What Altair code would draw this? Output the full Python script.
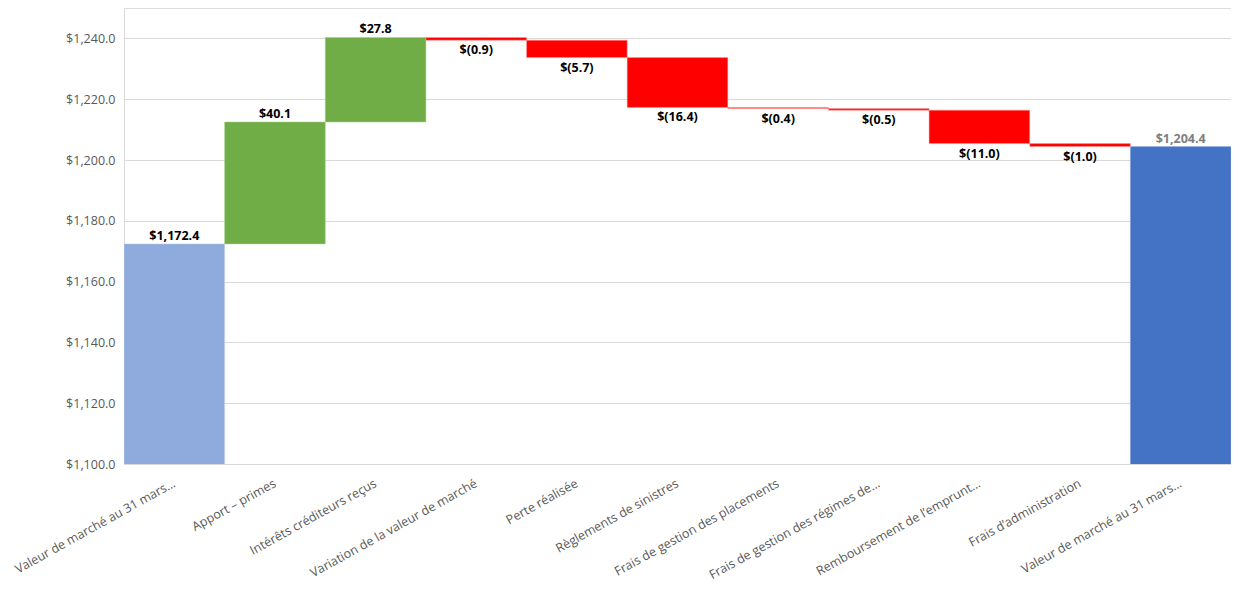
import json
import altair as alt
import pandas as pd

categories = [
    "Valeur de marché au 31 mars…",
    "Apport – primes",
    "Intérêts créditeurs reçus",
    "Variation de la valeur de marché",
    "Perte réalisée",
    "Règlements de sinistres",
    "Frais de gestion des placements",
    "Frais de gestion des régimes de…",
    "Remboursement de l’emprunt…",
    "Frais d’administration",
    "Valeur de marché au 31 mars…",
]
start_value = 1172.4
changes = [40.1, 27.8, -0.9, -5.7, -16.4, -0.4, -0.5, -11.0, -1.0]
end_value = 1204.4
y_ticks = [1100, 1120, 1140, 1160, 1180, 1200, 1220, 1240]


def fmt(v):
    if v < 0:
        return "$({:,.1f})".format(-v)
    return "${:,.1f}".format(v)


rows = [dict(idx=0, kind="start", lo=0.0, hi=start_value, lab_y=start_value,
             pos="above", text=fmt(start_value))]
run = start_value
for i, c in enumerate(changes, start=1):
    new = round(run + c, 1)
    if c >= 0:
        rows.append(dict(idx=i, kind="up", lo=run, hi=new, lab_y=new, pos="above", text=fmt(c)))
    else:
        rows.append(dict(idx=i, kind="down", lo=new, hi=run, lab_y=new, pos="below", text=fmt(c)))
    run = new
rows.append(dict(idx=len(categories) - 1, kind="end", lo=0.0, hi=end_value, lab_y=end_value,
                 pos="above", text=fmt(end_value)))
df = pd.DataFrame(rows)

label_expr = json.dumps(categories, ensure_ascii=False) + "[datum.value]"

FONT = "Open Sans"

x_enc = alt.X(
    "idx:O",
    scale=alt.Scale(paddingInner=0, paddingOuter=0),
    axis=alt.Axis(
        title=None, labelExpr=label_expr, labelAngle=-29, labelAlign="right",
        labelBaseline="middle", labelPadding=18, ticks=False, domain=False,
        labelFont=FONT, labelFontSize=12.5, labelColor="#595959", labelLimit=300,
        labelOverlap=False,
    ),
)
y_scale = alt.Scale(domain=[1100, 1250], nice=False, zero=False)

bars = alt.Chart(df).mark_bar(clip=True, strokeWidth=1, strokeOpacity=0.5).encode(
    x=x_enc,
    y=alt.Y("lo:Q", scale=y_scale, axis=alt.Axis(
        title=None, values=y_ticks, format="$,.1f", ticks=False,
        labelFont=FONT, labelFontSize=12.5, labelColor="#595959", labelPadding=9,
        gridColor="#d9d9d9", domainColor="#d9d9d9",
    )),
    y2="hi:Q",
    color=alt.Color("kind:N", legend=None, scale=alt.Scale(
        domain=["start", "up", "down", "end"],
        range=["#8faadc", "#70ad47", "#ff0000", "#4472c4"])),
    stroke=alt.Stroke("kind:N", legend=None, scale=alt.Scale(
        domain=["start", "up", "down", "end"],
        range=["#c5d3ee", "#a8d08d", "#ff9999", "#8faadc"])),
)

text_color = alt.Color("kind:N", legend=None, scale=alt.Scale(
    domain=["start", "up", "down", "end"],
    range=["#000000", "#000000", "#000000", "#7f7f7f"]))

above = alt.Chart(df).transform_filter("datum.pos == 'above'").mark_text(
    baseline="bottom", dy=-1, font=FONT, fontSize=12.5, fontWeight="bold"
).encode(x=alt.X("idx:O"), y=alt.Y("lab_y:Q", scale=y_scale), text="text:N", color=text_color)

below = alt.Chart(df).transform_filter("datum.pos == 'below'").mark_text(
    baseline="top", dy=4, font=FONT, fontSize=12.5, fontWeight="bold"
).encode(x=alt.X("idx:O"), y=alt.Y("lab_y:Q", scale=y_scale), text="text:N", color=text_color)

chart = alt.layer(bars, above, below).resolve_scale(color="independent").properties(
    width=1107,
    height=456,
    autosize=alt.AutoSizeParams(type="none"),
    padding={"left": 116, "top": 0, "right": 0, "bottom": 118},
).configure_view(stroke=None).configure(background="white")

chart.save("out.html", embed_options={"renderer": "svg", "actions": False})
